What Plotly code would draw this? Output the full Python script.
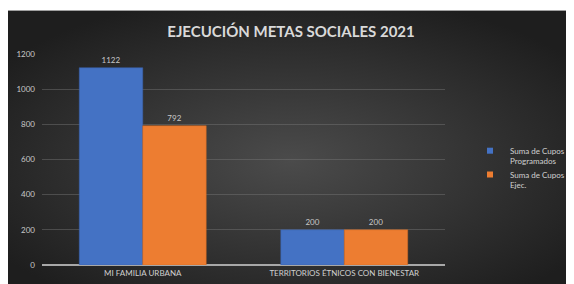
import base64
import plotly.graph_objects as go

categories = ["MI FAMILIA URBANA", "TERRITORIOS ÉTNICOS CON BIENESTAR"]
programados = [1122, 200]
ejecutados = [792, 200]
series_names = ["Suma de Cupos<br>Programados", "Suma de Cupos<br>Ejec."]
series_colors = ["#4472C4", "#ED7D31"]
y_ticks = [0, 200, 400, 600, 800, 1000, 1200]

# page has an 8px body margin, so the figure fills the rest of the window
W, H = 566, 276
L, R, T, B = 34, 129, 46, 19
pw, ph = W - L - R, H - T - B

def px_x(p):
    return (p - L) / pw

def px_y(p):
    return (H - B - p) / ph

svg = (
    '<svg xmlns="http://www.w3.org/2000/svg" width="566" height="274" viewBox="0 0 566 274" preserveAspectRatio="none">'
    '<defs><radialGradient id="g" cx="50%" cy="55%" r="62%">'
    '<stop offset="0%" stop-color="#4b4b4b"/><stop offset="100%" stop-color="#1e1e1e"/>'
    '</radialGradient></defs><rect width="566" height="274" fill="url(#g)"/></svg>'
)
bg_src = "data:image/svg+xml;base64," + base64.b64encode(svg.encode()).decode()

fig = go.Figure()
for vals, name, color, edge in [
    (programados, series_names[0], series_colors[0], "#3a63ad"),
    (ejecutados, series_names[1], series_colors[1], "#d06a22"),
]:
    fig.add_trace(go.Bar(
        x=categories, y=vals, name=name, showlegend=False,
        marker=dict(color=color, line=dict(color=edge, width=0.5)),
        text=vals, textposition="outside",
        textfont=dict(size=8, color="#c8c8c8", family="Lato"),
        cliponaxis=False,
    ))
# legend entries with small square symbols
for name, color in zip(series_names, series_colors):
    fig.add_trace(go.Scatter(
        x=[None], y=[None], mode="markers", name=name,
        marker=dict(symbol="square", size=6, color=color),
    ))

fig.update_layout(
    width=W, height=H,
    margin=dict(l=L, r=R, t=T, b=B, pad=0, autoexpand=False),
    paper_bgcolor="#2a2a2a",
    plot_bgcolor="rgba(0,0,0,0)",
    barmode="group",
    bargap=0.37,
    bargroupgap=0,
    showlegend=True,
    font=dict(family="Lato", color="#c8c8c8", size=8),
    title=dict(
        text="<b>EJECUCIÓN METAS SOCIALES 2021</b>",
        x=283 / W, xref="container", xanchor="center",
        y=1 - 24 / H, yref="container", yanchor="middle",
        font=dict(size=15, color="#d9d9d9", family="Lato"),
    ),
    legend=dict(
        x=px_x(462), xanchor="left", y=px_y(131), yanchor="top",
        font=dict(size=8, color="#d0d0d0", family="Lato"),
        bgcolor="rgba(0,0,0,0)", itemwidth=30, tracegroupgap=6,
        valign="top",
    ),
    images=[dict(
        source=bg_src, xref="paper", yref="paper",
        x=px_x(0), y=px_y(2), sizex=W / pw, sizey=(H - 2) / ph,
        xanchor="left", yanchor="top", sizing="stretch", layer="below",
    )],
    shapes=[
        dict(type="rect", xref="paper", yref="paper",
             x0=px_x(0), x1=px_x(W), y0=px_y(0), y1=px_y(2),
             fillcolor="white", line=dict(width=0), layer="below"),
        dict(type="line", xref="paper", yref="paper",
             x0=px_x(0), x1=px_x(W), y0=px_y(2.5), y1=px_y(2.5),
             line=dict(color="#a0a0a0", width=1), layer="below"),
    ],
)
fig.update_yaxes(
    range=[0, 1200], tickvals=y_ticks, showgrid=True,
    gridcolor="rgba(120,120,120,0.45)", gridwidth=1,
    zeroline=True, zerolinecolor="#a8a8a8", zerolinewidth=1.5,
    tickfont=dict(size=8, color="#c8c8c8"), ticks="", ticklabelstandoff=6,
)
fig.update_xaxes(
    showgrid=False, showline=False, ticks="",
    tickfont=dict(size=8, color="#d0d0d0"), ticklabelstandoff=2,
)

fig.write_html("out.html")
